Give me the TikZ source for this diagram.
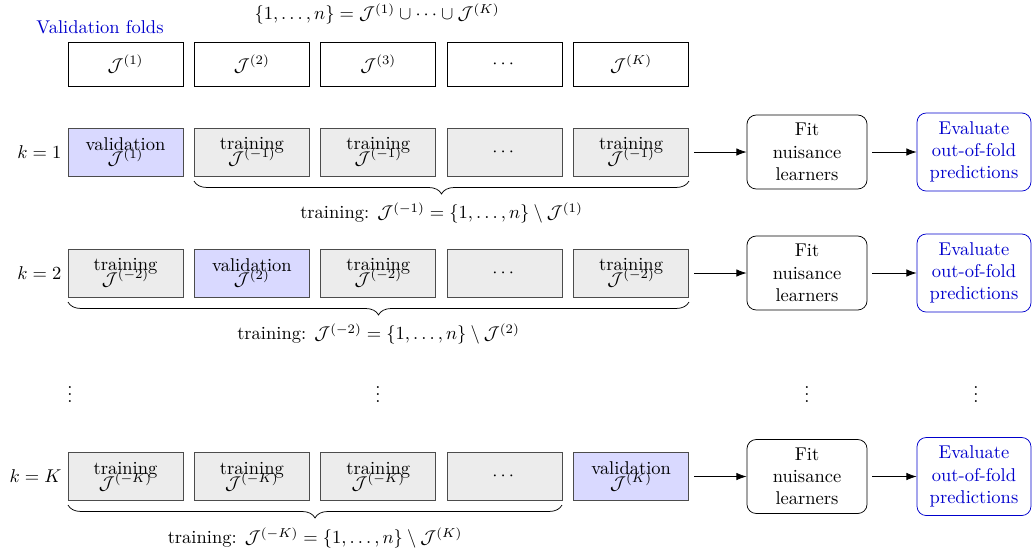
\documentclass[tikz,border=0pt]{standalone}
\usepackage{amsmath}
\usetikzlibrary{decorations.pathreplacing,arrows.meta}
\begin{document}
\begin{tikzpicture}[x=0.5405pt,y=-0.5405pt,
  fold/.style={draw=black, minimum width=62.2pt, minimum height=23.8pt, inner sep=0pt},
  trainbox/.style={draw=black!70, fill=gray!15, minimum width=62.2pt, minimum height=25.9pt, inner sep=0pt, align=center},
  valbox/.style={draw=black!70, fill=blue!15, minimum width=62.2pt, minimum height=25.9pt, inner sep=0pt, align=center},
  fitbox/.style={draw=black, rounded corners=5pt, minimum width=64.9pt, minimum height=40pt, align=center, inner sep=2pt},
  evalbox/.style={draw=blue!80!black, text=blue!80!black, rounded corners=5pt, minimum width=61.6pt, minimum height=42.2pt, align=center, inner sep=2pt},
  flow/.style={-{Latex[length=5.5pt,width=4pt]}, shorten <=2.7pt},
  brc/.style={decorate, decoration={brace, mirror, amplitude=7pt}},
  rowlab/.style={anchor=east}
]
\useasboundingbox (0,0) rectangle (1032,555);

% header
\node (hdr) at (377,14) {$\{1,\ldots,n\}=\mathcal{J}^{(1)}\cup\cdots\cup\mathcal{J}^{(K)}$};
\node[text=blue!80!black] (vf) at (100,27) {Validation folds};

% top row
\node[fold] (t1) at (125.5,64) {$\mathcal{J}^{(1)}$};
\node[fold] (t2) at (251.9,64) {$\mathcal{J}^{(2)}$};
\node[fold] (t3) at (378.3,64) {$\mathcal{J}^{(3)}$};
\node[fold] (t4) at (504.7,64) {$\cdots$};
\node[fold] (t5) at (631.1,64) {$\mathcal{J}^{(K)}$};

% row k=1
\node[rowlab] (k1) at (68,152) {$k=1$};
\node[valbox] (a1) at (125.5,152) {validation\\[-4pt]$\mathcal{J}^{(1)}$};
\node[trainbox] (a2) at (251.9,152) {training\\[-4pt]$\mathcal{J}^{(-1)}$};
\node[trainbox] (a3) at (378.3,152) {training\\[-4pt]$\mathcal{J}^{(-1)}$};
\node[trainbox] (a4) at (504.7,152) {$\cdots$};
\node[trainbox] (a5) at (631.1,152) {training\\[-4pt]$\mathcal{J}^{(-1)}$};
\node[fitbox] (fa) at (807,152) {Fit\\nuisance\\learners};
\node[evalbox] (ea) at (974,152) {Evaluate\\out-of-fold\\predictions};
\draw[flow] (a5) -- (fa);
\draw[flow] (fa) -- (ea);
\coordinate (ba1) at (194,181);
\coordinate (ba2) at (689,181);
\draw[brc] (ba1) -- (ba2);
\node (la) at (441.5,213) {training: $\mathcal{J}^{(-1)}=\{1,\ldots,n\}\setminus\mathcal{J}^{(1)}$};

% row k=2
\node[rowlab] (k2) at (68,273) {$k=2$};
\node[trainbox] (b1) at (125.5,273) {training\\[-4pt]$\mathcal{J}^{(-2)}$};
\node[valbox] (b2) at (251.9,273) {validation\\[-4pt]$\mathcal{J}^{(2)}$};
\node[trainbox] (b3) at (378.3,273) {training\\[-4pt]$\mathcal{J}^{(-2)}$};
\node[trainbox] (b4) at (504.7,273) {$\cdots$};
\node[trainbox] (b5) at (631.1,273) {training\\[-4pt]$\mathcal{J}^{(-2)}$};
\node[fitbox] (fb) at (807,273) {Fit\\nuisance\\learners};
\node[evalbox] (eb) at (974,273) {Evaluate\\out-of-fold\\predictions};
\draw[flow] (b5) -- (fb);
\draw[flow] (fb) -- (eb);
\coordinate (bb1) at (68,302);
\coordinate (bb2) at (689,302);
\draw[brc] (bb1) -- (bb2);
\node (lb) at (378.5,334) {training: $\mathcal{J}^{(-2)}=\{1,\ldots,n\}\setminus\mathcal{J}^{(2)}$};

% dots
\node (d1) at (70,389) {$\vdots$};
\node (d2) at (378,389) {$\vdots$};
\node (d3) at (807,389) {$\vdots$};
\node (d4) at (976,389) {$\vdots$};

% row k=K
\node[rowlab] (kK) at (68,476.5) {$k=K$};
\node[trainbox] (c1) at (125.5,476.5) {training\\[-4pt]$\mathcal{J}^{(-K)}$};
\node[trainbox] (c2) at (251.9,476.5) {training\\[-4pt]$\mathcal{J}^{(-K)}$};
\node[trainbox] (c3) at (378.3,476.5) {training\\[-4pt]$\mathcal{J}^{(-K)}$};
\node[trainbox] (c4) at (504.7,476.5) {$\cdots$};
\node[valbox] (c5) at (631.1,476.5) {validation\\[-4pt]$\mathcal{J}^{(K)}$};
\node[fitbox] (fc) at (807,476.5) {Fit\\nuisance\\learners};
\node[evalbox] (ec) at (974,476.5) {Evaluate\\out-of-fold\\predictions};
\draw[flow] (c5) -- (fc);
\draw[flow] (fc) -- (ec);
\coordinate (bc1) at (68,505);
\coordinate (bc2) at (562,505);
\draw[brc] (bc1) -- (bc2);
\node (lc) at (315,538) {training: $\mathcal{J}^{(-K)}=\{1,\ldots,n\}\setminus\mathcal{J}^{(K)}$};
\end{tikzpicture}
\end{document}
